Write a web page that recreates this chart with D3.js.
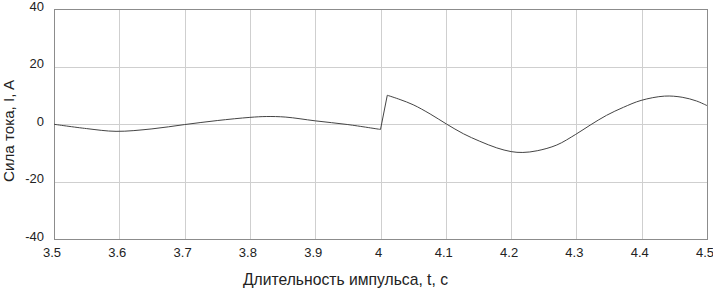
<!DOCTYPE html>
<html>
<head>
<meta charset="utf-8">
<script src="https://cdn.jsdelivr.net/npm/d3@7"></script>
<style>
  body { margin: 0; background: #fff; }
  text { font-family: "Liberation Sans", Arial, sans-serif; fill: #222; }
</style>
</head>
<body>
<svg id="chart"></svg>
<script>
const width = 713, height = 288;
const margin = { top: 9, right: 6, bottom: 49, left: 54 };

// readings: time, s
const timeBefore = [3.5, 3.55, 3.595, 3.65, 3.7, 3.75, 3.8, 3.825, 3.855, 3.9, 3.95, 4.0];
// current, A
const currentBefore = [-0.1, -1.6, -2.55, -1.7, -0.2, 1.2, 2.3, 2.6, 2.4, 1.1, -0.2, -1.9];

const timeAfter = [4.0, 4.0104, 4.03, 4.05, 4.076, 4.101, 4.127, 4.152, 4.178, 4.2, 4.218, 4.24,
    4.27, 4.299, 4.321, 4.346, 4.372, 4.399, 4.435, 4.462, 4.484, 4.5];
const currentAfter = [-1.9, 10.0, 8.5, 6.7, 3.5, 0.0, -3.4, -6.0, -8.3, -9.6, -9.9, -9.3,
    -7.3, -3.6, -0.4, 3.0, 5.8, 8.2, 9.7, 9.3, 8.0, 6.4];

const xTicks = [3.5, 3.6, 3.7, 3.8, 3.9, 4.0, 4.1, 4.2, 4.3, 4.4, 4.5];
const yTicks = [-40, -20, 0, 20, 40];

const xLabel = 'Длительность импульса, t, с';
const yLabel = 'Сила тока, I, A';

const svg = d3.select('#chart').attr('width', width).attr('height', height);

const x = d3.scaleLinear().domain([3.5, 4.5]).range([margin.left, width - margin.right]);
const y = d3.scaleLinear().domain([-40, 40]).range([height - margin.bottom, margin.top]);

// grid
svg.append('g')
    .selectAll('line')
    .data(xTicks)
    .enter()
    .append('line')
    .attr('x1', d => Math.round(x(d)) + 0.5)
    .attr('x2', d => Math.round(x(d)) + 0.5)
    .attr('y1', y(-40))
    .attr('y2', y(40))
    .attr('stroke', '#cfcfcf');

svg.append('g')
    .selectAll('line')
    .data(yTicks)
    .enter()
    .append('line')
    .attr('y1', d => Math.round(y(d)) + 0.5)
    .attr('y2', d => Math.round(y(d)) + 0.5)
    .attr('x1', x(3.5))
    .attr('x2', x(4.5))
    .attr('stroke', '#cfcfcf');

// frame
svg.append('rect')
    .attr('x', x(3.5) + 0.5)
    .attr('y', y(40) + 0.5)
    .attr('width', x(4.5) - x(3.5))
    .attr('height', y(-40) - y(40))
    .attr('fill', 'none')
    .attr('stroke', '#8c8c8c');

// tick labels
svg.append('g')
    .selectAll('text')
    .data(xTicks)
    .enter()
    .append('text')
    .attr('x', d => x(d) - 2)
    .attr('y', height - margin.bottom + 18)
    .attr('text-anchor', 'middle')
    .style('font-size', '13px')
    .text(d => d3.format('.1f')(d).replace('4.0', '4'));

svg.append('g')
    .selectAll('text')
    .data(yTicks)
    .enter()
    .append('text')
    .attr('x', margin.left - 10)
    .attr('y', d => y(d) + 1.5)
    .attr('text-anchor', 'end')
    .style('font-size', '13px')
    .text(d => d);

// axis titles
svg.append('text')
    .attr('x', 345.5)
    .attr('y', 285)
    .attr('text-anchor', 'middle')
    .style('font-size', '15.7px')
    .text(xLabel);

svg.append('text')
    .attr('transform', 'translate(14,131) rotate(-90)')
    .attr('text-anchor', 'middle')
    .style('font-size', '15.2px')
    .text(yLabel);

// current trace
const line = d3.line()
    .x(d => x(d[0]))
    .y(d => y(d[1]))
    .curve(d3.curveCatmullRom.alpha(0.5));

const seg1 = timeBefore.map((t, i) => [t, currentBefore[i]]);
const seg2 = timeAfter.slice(1).map((t, i) => [t, currentAfter[i + 1]]);

svg.append('path')
    .attr('d', line(seg1))
    .attr('fill', 'none')
    .attr('stroke', '#444')
    .attr('stroke-width', 1);

// step at t = 4 s
svg.append('path')
    .attr('d', d3.line().x(d => x(d[0])).y(d => y(d[1]))([[timeAfter[0], currentAfter[0]], [timeAfter[1], currentAfter[1]]]))
    .attr('fill', 'none')
    .attr('stroke', '#444')
    .attr('stroke-width', 1);

svg.append('path')
    .attr('d', line(seg2))
    .attr('fill', 'none')
    .attr('stroke', '#444')
    .attr('stroke-width', 1);
</script>
</body>
</html>
